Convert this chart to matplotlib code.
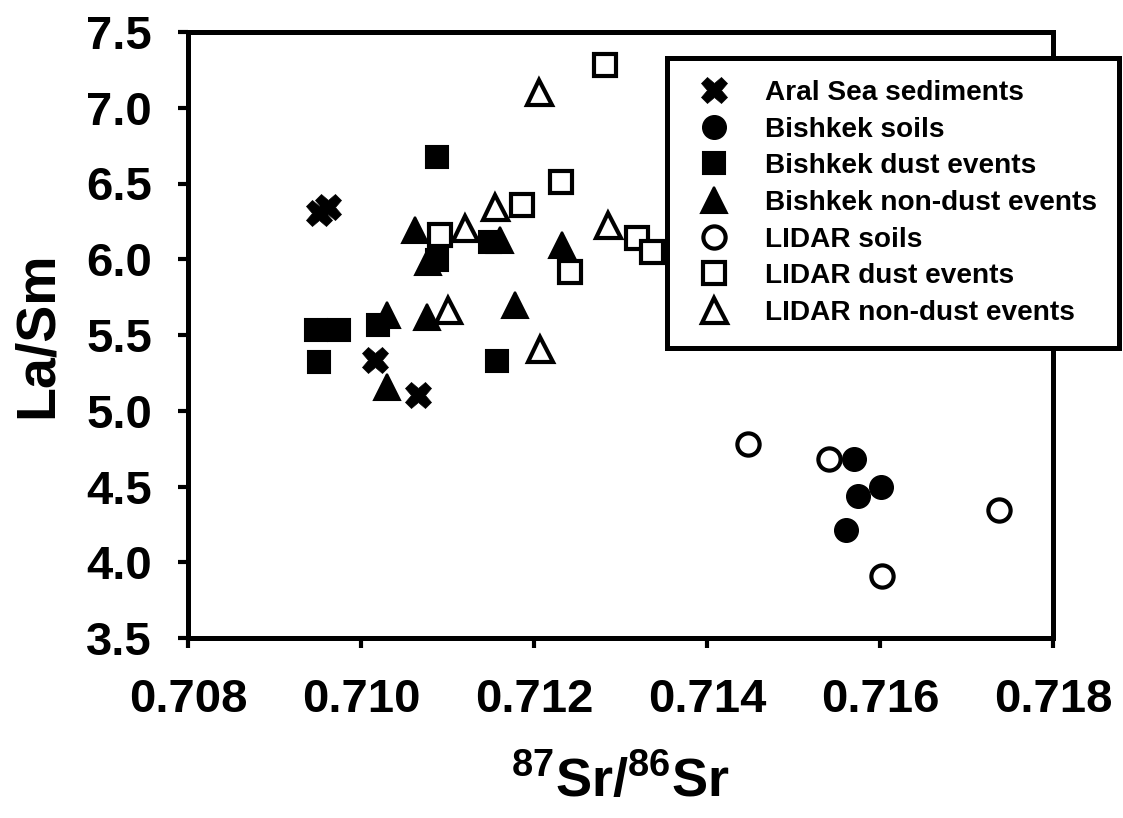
import matplotlib
matplotlib.use("Agg")
import matplotlib.pyplot as plt

plt.rcParams['font.family'] = ['Liberation Sans', 'DejaVu Sans']
plt.rcParams['font.weight'] = 'bold'
plt.rcParams['mathtext.fontset'] = 'custom'
plt.rcParams['mathtext.rm'] = 'Liberation Sans:bold'
plt.rcParams['mathtext.bf'] = 'Liberation Sans:bold'
plt.rcParams['mathtext.it'] = 'Liberation Sans:bold'

# ---- data ----
aral_x = [0.70951, 0.70962, 0.71016, 0.71066]
aral_y = [6.305, 6.345, 5.335, 5.105]

bishkek_soils_x = [0.71570, 0.71601, 0.71575, 0.71561]
bishkek_soils_y = [4.68, 4.50, 4.44, 4.21]

bishkek_dust_x = [0.71088, 0.70948, 0.70975, 0.70951, 0.71020, 0.71157, 0.71149, 0.71088]
bishkek_dust_y = [6.675, 5.533, 5.533, 5.322, 5.566, 5.328, 6.114, 5.995]

bishkek_nondust_x = [0.71062, 0.71161, 0.71232, 0.71178, 0.71076, 0.71030, 0.71030, 0.71077]
bishkek_nondust_y = [6.193, 6.127, 6.094, 5.698, 5.619, 5.632, 5.157, 5.982]

lidar_soils_x = [0.71447, 0.71541, 0.71738, 0.71602]
lidar_soils_y = [4.78, 4.68, 4.345, 3.909]

lidar_dust_x = [0.71282, 0.71231, 0.71186, 0.71091, 0.71242, 0.71319, 0.71336]
lidar_dust_y = [7.282, 6.510, 6.358, 6.160, 5.916, 6.140, 6.048]

lidar_nondust_x = [0.71206, 0.71155, 0.71120, 0.71101, 0.71207, 0.71286]
lidar_nondust_y = [7.104, 6.345, 6.206, 5.665, 5.408, 6.226]

labels = ["Aral Sea sediments", "Bishkek soils", "Bishkek dust events",
          "Bishkek non-dust events", "LIDAR soils", "LIDAR dust events",
          "LIDAR non-dust events"]

xticks = [0.708, 0.710, 0.712, 0.714, 0.716, 0.718]
yticks = [3.5, 4.0, 4.5, 5.0, 5.5, 6.0, 6.5, 7.0, 7.5]

# ---- figure ----
W, H = 1123, 818
fig = plt.figure(figsize=(W / 100, H / 100), dpi=100)
ax = fig.add_axes([188 / W, 1 - 638 / H, (1053 - 188) / W, (638 - 32) / H])

k = dict(linestyle='none', color='black', mec='black')
ax.plot(aral_x, aral_y, marker='X', ms=19, mew=0.5, label=labels[0], **k)
ax.plot(bishkek_soils_x, bishkek_soils_y, marker='o', ms=17, mew=1, mfc='black', label=labels[1], **k)
ax.plot(bishkek_dust_x, bishkek_dust_y, marker='s', ms=16, mew=1.5, mfc='black', label=labels[2], **k)
ax.plot(bishkek_nondust_x, bishkek_nondust_y, marker='^', ms=19, mew=1.5, mfc='black', label=labels[3], **k)
ax.plot(lidar_soils_x, lidar_soils_y, marker='o', ms=16, mew=3, mfc='white', label=labels[4], **k)
ax.plot(lidar_dust_x, lidar_dust_y, marker='s', ms=15.5, mew=3, mfc='white', label=labels[5], **k)
ax.plot(lidar_nondust_x, lidar_nondust_y, marker='^', ms=18, mew=3, mfc='white', label=labels[6], **k)

ax.set_xlim(0.708, 0.718)
ax.set_ylim(3.5, 7.5)
ax.set_xticks(xticks)
ax.set_xticklabels([f"{v:.3f}" for v in xticks])
ax.set_yticks(yticks)
ax.set_yticklabels([f"{v:.1f}" for v in yticks])

for s in ax.spines.values():
    s.set_linewidth(3.6)
ax.tick_params(direction='out', length=7, width=3, labelsize=34)
ax.tick_params(axis='y', pad=19)
ax.tick_params(axis='x', pad=22)

ax.set_xlabel(r'$\mathregular{^{87}Sr/^{86}Sr}$', fontsize=39, fontweight='bold', labelpad=24)
ax.set_ylabel('La/Sm', fontsize=40, fontweight='bold', labelpad=16)

leg = fig.legend(loc='upper left', bbox_to_anchor=(667 / W, 1 - 58 / H), borderaxespad=0,
                 prop={'family': 'Liberation Sans', 'weight': 'bold', 'size': 20.2},
                 numpoints=1, handlelength=1.8, handletextpad=0.92, borderpad=0.78,
                 labelspacing=0.38, fancybox=False, framealpha=1, edgecolor='black')
leg.get_frame().set_linewidth(3.6)

fig.savefig("out.png", dpi=100)
